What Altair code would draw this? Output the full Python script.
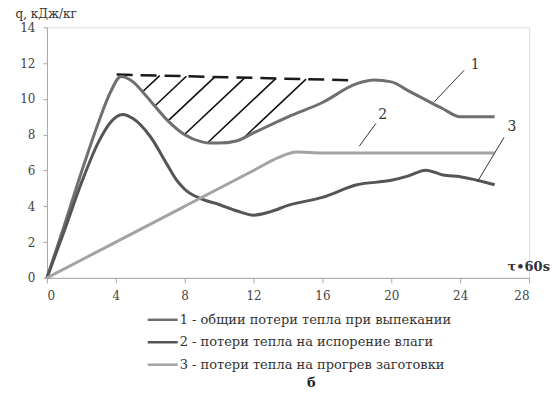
import altair as alt
import numpy as np
import pandas as pd

# ---- data ----
series_names = [
    "1 - общии потери тепла при выпекании",
    "2 - потери тепла на испорение влаги",
    "3 - потери тепла на прогрев заготовки",
]
series_colors = ["#6f6f6f", "#555555", "#a3a3a3"]

# curve 1: total heat losses
c1_x = [0, 1, 2, 3, 3.7, 4.3, 5, 5.6, 6, 7, 8, 9, 9.5, 10, 11, 12, 14, 16, 18, 19, 20, 21, 22, 23, 24, 26]
c1_y = [0, 2.9, 5.9, 8.7, 10.4, 11.25, 10.95, 10.35, 9.9, 8.8, 8.0, 7.6, 7.53, 7.53, 7.65, 8.1, 9.0, 9.8, 10.85, 11.05, 10.95, 10.45, 9.95, 9.45, 9.0, 9.0]

# curve 2 (legend): moisture evaporation - the lower wavy curve
c2_x = [0, 1, 2, 3, 3.7, 4.4, 5, 6, 7, 7.5, 8, 9, 10, 11, 12, 13, 14, 16, 18, 20, 21, 22, 23, 24, 26]
c2_y = [0, 2.6, 5.3, 7.6, 8.7, 9.13, 8.9, 7.9, 6.3, 5.5, 4.95, 4.4, 4.1, 3.75, 3.5, 3.7, 4.05, 4.5, 5.2, 5.45, 5.7, 6.02, 5.75, 5.65, 5.2]

# curve 3 (legend): heating of the billet - the straight line
c3_x = [0, 4, 8, 12, 13.5, 14.5, 16, 26]
c3_y = [0, 2.0, 4.0, 6.0, 6.75, 7.03, 6.98, 6.98]

# dashed envelope line
dash_x = [4.05, 17.75]
dash_y = [11.36, 11.04]

# hatch lines: where they leave the dashed line
hatch_top_x = [6.55, 8.1, 9.75, 11.5, 13.3, 15.05]
hatch_slope = 0.905

# callout labels
label_text = ["1", "2", "3"]
label_x = [24.87, 19.5, 27.0]
label_y = [11.9, 9.1, 8.45]
leader_x1 = [24.23, 19.11, 26.55]
leader_y1 = [11.6, 8.63, 7.85]
leader_x2 = [22.49, 18.14, 25.0]
leader_y2 = [9.83, 7.36, 5.37]

x_ticks = [0, 4, 8, 12, 16, 20, 24, 28]
y_ticks = [0, 2, 4, 6, 8, 10, 12, 14]

FONT = "DejaVu Serif"

# ---- tables ----
curves = pd.concat([
    pd.DataFrame({"x": c1_x, "y": c1_y, "s": series_names[0], "o": range(len(c1_x))}),
    pd.DataFrame({"x": c2_x, "y": c2_y, "s": series_names[1], "o": range(len(c2_x))}),
    pd.DataFrame({"x": c3_x, "y": c3_y, "s": series_names[2], "o": range(len(c3_x))}),
])

dash_df = pd.DataFrame({"x": dash_x, "y": dash_y})

hx1, hy1, hx2, hy2 = [], [], [], []
for t in hatch_top_x:
    yt = np.interp(t, dash_x, dash_y)
    xs = np.linspace(t, t - 8, 4000)
    line = yt - hatch_slope * (t - xs)
    curve = np.interp(xs, c1_x, c1_y)
    idx = np.argmax(line <= curve)
    hx1.append(t); hy1.append(yt); hx2.append(xs[idx]); hy2.append(line[idx])
hatch_df = pd.DataFrame({"x": hx1, "y": hy1, "x2": hx2, "y2": hy2})

leader_df = pd.DataFrame({"x": leader_x1, "y": leader_y1, "x2": leader_x2, "y2": leader_y2})
label_df = pd.DataFrame({"t": label_text, "x": label_x, "y": label_y})
legend_df = pd.DataFrame({"s": series_names, "row": [0, 1, 2]})

xs_scale = alt.Scale(domain=[0, 28], nice=False)
ys_scale = alt.Scale(domain=[0, 14], nice=False)
color_scale = alt.Scale(domain=series_names, range=series_colors)

x_axis = alt.Axis(values=x_ticks, grid=False, domainColor="#a8a8a8", tickColor="#a8a8a8",
                  tickSize=5, labelPadding=8, labelFont=FONT, labelFontSize=12, labelColor="#444",
                  labelOverlap=False,
                  title="τ•60s", titleFont=FONT, titleFontSize=13, titleFontWeight="bold",
                  titleColor="#333", titleAngle=0, titleAlign="left", titleBaseline="middle",
                  titleX=461, titleY=-11)
y_axis = alt.Axis(values=y_ticks, grid=False, domainColor="#a8a8a8", tickColor="#a8a8a8",
                  tickSize=4, labelPadding=8, labelFont=FONT, labelFontSize=12, labelColor="#444",
                  labelOverlap=False, tickCount=8,
                  title="q, кДж/кг", titleFont=FONT, titleFontSize=12, titleFontWeight="normal",
                  titleColor="#333", titleAngle=0, titleAlign="left", titleBaseline="middle",
                  titleX=-32, titleY=-14)


def X(field):
    return alt.X(field, type="quantitative", scale=xs_scale, axis=x_axis)


def Y(field):
    return alt.Y(field, type="quantitative", scale=ys_scale, axis=y_axis)


lines = alt.Chart(curves).mark_line(interpolate="monotone", strokeWidth=3).encode(
    x=X("x"), y=Y("y"),
    color=alt.Color("s:N", scale=color_scale, legend=None),
    order="o:Q",
)

dash = alt.Chart(dash_df).mark_line(color="#1a1a1a", strokeWidth=2.5, strokeDash=[16, 8]).encode(
    x=X("x"), y=Y("y"))

hatch = alt.Chart(hatch_df).mark_rule(color="#111", strokeWidth=1.6).encode(
    x=X("x"), y=Y("y"), x2="x2:Q", y2="y2:Q")

leaders = alt.Chart(leader_df).mark_rule(color="#333", strokeWidth=1).encode(
    x=X("x"), y=Y("y"), x2="x2:Q", y2="y2:Q")

labels = alt.Chart(label_df).mark_text(font=FONT, fontSize=14, color="#333").encode(
    x=X("x"), y=Y("y"), text="t:N")

# manual legend below the plot
row_scale = alt.Scale(domain=[0, 2], range=[293, 338])
leg_lines = alt.Chart(legend_df).mark_rule(strokeWidth=2.5).encode(
    x=alt.value(101), x2=alt.value(131),
    y=alt.Y("row:Q", scale=row_scale, axis=None),
    color=alt.Color("s:N", scale=color_scale, legend=None),
)
leg_text = alt.Chart(legend_df).mark_text(font=FONT, fontSize=13, color="#333", align="left",
                                          baseline="middle").encode(
    x=alt.value(133),
    y=alt.Y("row:Q", scale=row_scale, axis=None),
    text="s:N",
)
legend = alt.layer(leg_lines, leg_text)

b_df = pd.DataFrame({"t": ["б"]})
b_text = alt.Chart(b_df).mark_text(font=FONT, fontSize=13, fontWeight="bold", color="#222").encode(
    x=alt.value(265), y=alt.value(356), text="t:N")

main = alt.layer(hatch, dash, lines, leaders, labels, b_text)

chart = alt.layer(main, legend).resolve_scale(y="independent").properties(
    width=483, height=251,
    padding={"left": 39, "top": 19, "right": 22, "bottom": 118},
    autosize=alt.AutoSizeParams(type="none"),
).configure_view(stroke=None).configure(background="white")

chart.save("out.html", embed_options={"renderer": "svg", "actions": False})
